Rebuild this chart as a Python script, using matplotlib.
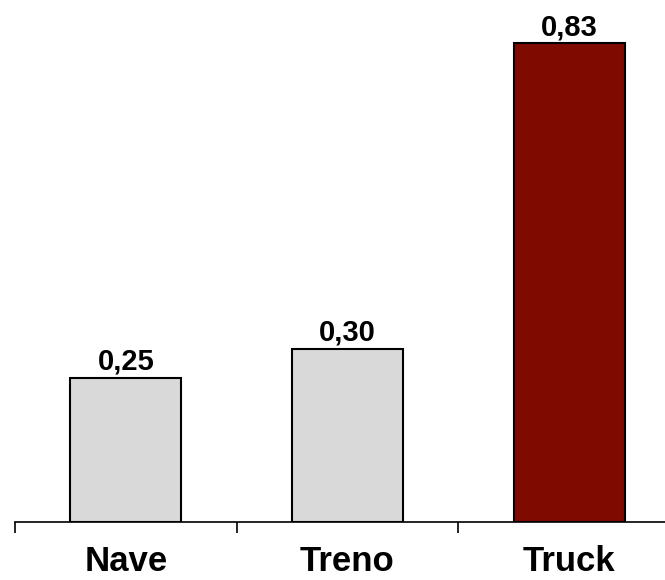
import matplotlib
matplotlib.use("Agg")
import matplotlib.pyplot as plt

categories = ["Nave", "Treno", "Truck"]
values = [0.25, 0.30, 0.83]
labels = ["0,25", "0,30", "0,83"]
colors = ["#D9D9D9", "#D9D9D9", "#7F0A00"]

W, H = 665, 580
fig = plt.figure(figsize=(W/100, H/100), dpi=100)
ax = fig.add_axes([15/W, 58/H, 665/W, 519/H])
x = list(range(len(categories)))
ax.bar(x, values, width=0.5, color=colors, edgecolor="black", linewidth=1.5, zorder=3)
ax.set_xlim(-0.5, 2.5)
ax.set_ylim(0, 0.9)
for xi, v, l in zip(x, values, labels):
    ax.annotate(l, (xi, v), xytext=(0, 6), textcoords="offset points", ha="center", va="baseline",
                fontsize=21, fontweight="bold", family="Liberation Sans")
for xi, c in zip(x, categories):
    ax.annotate(c, (xi, 0), xycoords=("data", "axes fraction"), xytext=(0, -49 * 0.72),
                textcoords="offset points", ha="center", va="baseline",
                fontsize=25, fontweight="bold", family="Liberation Sans", annotation_clip=False)
for s in ["top", "right", "left"]:
    ax.spines[s].set_visible(False)
ax.spines["bottom"].set_linewidth(1.2)
ax.set_yticks([])
ax.set_xticks([-0.5, 0.5, 1.5, 2.5])
ax.set_xticklabels([])
ax.tick_params(axis="x", which="major", length=8, width=1.2, direction="out")
fig.savefig("out.png", dpi=100)
